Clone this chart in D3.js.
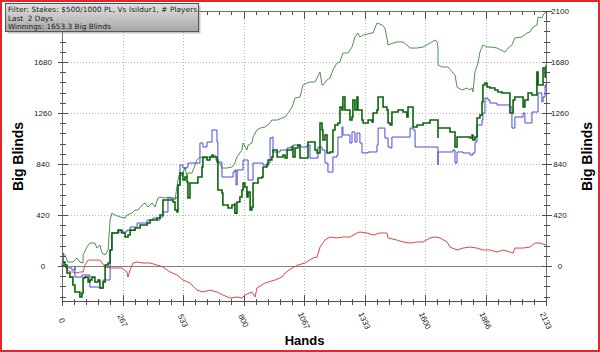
<!DOCTYPE html>
<html>
<head>
<meta charset="utf-8">
<script src="https://cdn.jsdelivr.net/npm/d3@7"></script>
<style>
  html, body { margin: 0; padding: 0; background: #fff; }
  svg { display: block; font-family: "Liberation Sans", Arial, sans-serif; }
</style>
</head>
<body>
<div id="graph"></div>
<script>
// tick labels and info box
const xTickLabels = ["0", "267", "533", "800", "1067", "1333", "1600", "1866", "2133"];
const yTickValues = [0, 420, 840, 1260, 1680, 2100];
const infoLines = [
  "Filter: Stakes: $500/1000 PL, Vs Isildur1, # Players",
  "Last  2 Days",
  "Winnings: 1653.3 Big Blinds"
];
const infoWidths = [189, 45, 103];

// series: [hands, big blinds]
const lightGreen = [[0,0],[4,107],[13,91],[26,33],[48,33],[66,66],[79,33],[93,25],[93,91],[110,156],[123,189],[145,189],[154,148],[167,173],[176,107],[190,91],[203,132],[212,379],[220,436],[234,420],[256,404],[278,395],[286,420],[308,436],[322,461],[335,461],[353,502],[366,519],[379,486],[397,519],[410,486],[423,560],[432,568],[454,560],[476,568],[498,544],[511,708],[520,774],[529,741],[542,815],[551,733],[555,766],[573,766],[595,873],[608,898],[630,889],[652,898],[674,914],[683,848],[696,848],[705,807],[727,807],[749,815],[762,848],[771,898],[793,955],[798,1013],[815,955],[820,996],[837,1013],[842,1062],[859,1120],[873,1136],[895,1145],[917,1178],[925,1202],[948,1202],[970,1219],[983,1227],[996,1260],[1014,1309],[1027,1383],[1049,1392],[1062,1491],[1080,1507],[1093,1515],[1115,1515],[1137,1598],[1146,1491],[1150,1491],[1168,1532],[1181,1548],[1194,1614],[1212,1672],[1225,1680],[1238,1754],[1260,1754],[1278,1803],[1291,1886],[1304,1919],[1313,1886],[1327,1902],[1366,1919],[1371,1919],[1388,2001],[1410,1985],[1423,1960],[1432,1878],[1437,1820],[1459,1836],[1476,1845],[1503,1845],[1520,1820],[1534,1795],[1565,1795],[1591,1803],[1622,1836],[1644,1861],[1653,1845],[1657,1795],[1657,1655],[1675,1639],[1701,1639],[1719,1598],[1732,1573],[1741,1474],[1763,1449],[1785,1466],[1798,1449],[1807,1466],[1811,1433],[1820,1598],[1833,1672],[1842,1762],[1855,1820],[1873,1803],[1895,1803],[1917,1795],[1952,1762],[1966,1795],[1983,1820],[1996,1878],[2027,1886],[2049,1919],[2062,1927],[2076,1968],[2093,1985],[2098,2051],[2115,2043],[2120,2067],[2133,2092]];

const darkGreen = [[0,0],[4,107],[4,33],[13,8],[22,-58],[35,-91],[48,-156],[57,-214],[71,-214],[79,-255],[88,-222],[93,-99],[101,-91],[115,-132],[123,-115],[132,-91],[145,-132],[159,-115],[167,-181],[176,-181],[181,-132],[190,8],[203,25],[212,132],[220,272],[225,272],[247,296],[264,272],[278,239],[291,255],[300,296],[322,313],[344,338],[375,354],[388,379],[419,395],[432,420],[445,544],[463,544],[489,527],[498,461],[507,445],[511,667],[520,766],[533,708],[542,733],[551,692],[555,560],[564,684],[586,684],[599,733],[617,815],[621,898],[639,873],[652,898],[661,914],[665,898],[683,873],[687,815],[687,626],[705,601],[709,502],[732,478],[749,502],[762,519],[762,436],[771,527],[784,568],[793,626],[798,684],[806,651],[815,568],[820,609],[829,461],[837,486],[842,684],[859,684],[864,725],[881,733],[886,815],[903,832],[908,873],[925,898],[930,955],[948,898],[961,898],[974,914],[983,889],[992,955],[1014,980],[1018,898],[1027,972],[1040,996],[1049,889],[1080,889],[1084,1021],[1102,1021],[1115,955],[1124,931],[1137,1178],[1146,1120],[1150,1038],[1159,1079],[1168,931],[1181,939],[1194,1120],[1203,1161],[1216,1178],[1225,1309],[1234,1285],[1238,1392],[1247,1285],[1260,1285],[1269,1202],[1278,1227],[1282,1367],[1291,1285],[1300,1392],[1304,1285],[1322,1202],[1327,1178],[1349,1202],[1366,1186],[1371,1260],[1388,1285],[1393,1392],[1410,1392],[1415,1309],[1432,1285],[1437,1178],[1446,1161],[1454,1268],[1481,1285],[1503,1268],[1520,1227],[1525,1309],[1542,1309],[1547,1145],[1565,1161],[1591,1178],[1622,1202],[1653,1202],[1657,1054],[1657,1136],[1701,1136],[1710,1104],[1732,1104],[1732,980],[1741,1062],[1767,1062],[1798,1054],[1807,1079],[1811,1038],[1820,1062],[1829,1219],[1842,1243],[1851,1351],[1855,1491],[1864,1507],[1873,1474],[1886,1466],[1908,1449],[1921,1433],[1939,1425],[1961,1425],[1974,1351],[1974,1260],[1988,1367],[1996,1392],[2018,1392],[2032,1309],[2040,1367],[2054,1425],[2071,1408],[2093,1598],[2098,1491],[2107,1491],[2120,1631],[2129,1556],[2133,1653]];

const blue = [[0,0],[18,-16],[44,-33],[57,-8],[57,-91],[88,-74],[123,-173],[167,-181],[181,-115],[212,132],[220,272],[242,280],[286,296],[300,321],[331,354],[375,379],[401,395],[419,379],[432,404],[445,445],[467,560],[507,568],[511,667],[520,832],[533,807],[551,815],[555,848],[608,1013],[621,980],[639,1021],[661,1120],[679,1120],[683,1021],[687,856],[705,848],[705,733],[740,733],[754,774],[762,791],[767,667],[772,791],[798,873],[815,873],[820,708],[837,708],[842,848],[873,848],[886,832],[903,848],[917,1054],[925,1062],[930,939],[961,955],[992,972],[1005,980],[1018,996],[1049,980],[1080,996],[1093,889],[1106,889],[1128,980],[1146,955],[1159,848],[1172,774],[1190,774],[1194,898],[1212,914],[1216,1062],[1234,1145],[1238,1079],[1256,1079],[1269,1013],[1278,1104],[1291,1021],[1300,1095],[1313,1013],[1322,931],[1349,939],[1371,939],[1388,996],[1393,1136],[1415,1136],[1423,1054],[1437,980],[1446,972],[1454,1062],[1503,1062],[1534,1062],[1534,1136],[1547,1120],[1556,980],[1591,980],[1653,980],[1657,832],[1657,939],[1697,939],[1723,955],[1732,848],[1741,939],[1767,931],[1798,914],[1811,931],[1820,1021],[1829,1161],[1851,1202],[1855,1260],[1864,1383],[1877,1367],[1886,1342],[1917,1326],[1961,1326],[1974,1309],[1983,1219],[1983,1136],[1996,1227],[2027,1227],[2032,1260],[2040,1178],[2062,1178],[2071,1268],[2093,1268],[2098,1425],[2115,1351],[2120,1392],[2129,1491],[2133,1466]];

const red = [[0,0],[4,8],[26,-33],[35,-49],[48,-49],[66,-58],[79,-49],[93,-49],[101,8],[115,49],[123,49],[167,49],[190,-8],[212,-16],[264,-16],[286,-49],[291,-91],[300,-33],[313,25],[331,33],[357,25],[388,25],[419,8],[445,-8],[476,-49],[507,-74],[533,-115],[564,-140],[595,-198],[621,-214],[652,-198],[683,-214],[710,-239],[740,-264],[771,-255],[793,-264],[806,-239],[837,-214],[851,-255],[859,-181],[895,-140],[939,-115],[970,-91],[983,-58],[1014,-16],[1040,8],[1071,25],[1106,66],[1124,74],[1137,156],[1159,214],[1181,239],[1212,231],[1238,239],[1269,239],[1300,272],[1313,280],[1344,272],[1371,255],[1401,272],[1432,272],[1437,231],[1476,214],[1503,198],[1534,189],[1565,198],[1591,198],[1622,231],[1644,239],[1666,231],[1697,198],[1710,156],[1741,132],[1767,148],[1798,156],[1829,148],[1855,132],[1886,132],[1917,115],[1943,132],[1974,115],[1988,107],[1996,148],[2032,148],[2062,156],[2085,189],[2107,189],[2133,173]];

function graphBuilder(target) {
  const width = 600;
  const height = 352;

  const margin = { top: 11, right: 54, bottom: 51, left: 62 };
  const plotW = width - margin.left - margin.right;
  const plotH = height - margin.top - margin.bottom;

  const maxHands = 2133;

  const x = d3.scaleLinear().domain([0, maxHands]).range([margin.left, margin.left + plotW]);
  const y = d3.scaleLinear().domain([-288, 2100]).range([margin.top + plotH, margin.top]);

  const svg = d3.select(target)
    .append("svg")
    .attr("width", width)
    .attr("height", height);

  svg.append("rect")
    .attr("width", width).attr("height", height)
    .attr("fill", "#fff");

  const xMajor = xTickLabels.map((d, i) => i * maxHands / 8);
  const xMinor = d3.range(0, 41).map((i) => i * maxHands / 40);
  const yMinor = d3.range(-3, 26).map((i) => i * 84);

  // grid
  const grid = svg.append("g").attr("class", "grid")
    .attr("stroke", "#b8b8b8")
    .attr("stroke-dasharray", "1,2");

  grid.selectAll(".gx")
    .data(xMajor.slice(1, -1))
    .enter().append("line")
    .attr("x1", (d) => Math.round(x(d)) + 0.5).attr("x2", (d) => Math.round(x(d)) + 0.5)
    .attr("y1", y.range()[1]).attr("y2", y.range()[0]);

  grid.selectAll(".gy")
    .data(yTickValues.filter((d) => d !== 0 && d !== 2100))
    .enter().append("line")
    .attr("x1", x.range()[0]).attr("x2", x.range()[1])
    .attr("y1", (d) => Math.round(y(d)) + 0.5).attr("y2", (d) => Math.round(y(d)) + 0.5);

  // zero line
  svg.append("line")
    .attr("x1", x.range()[0]).attr("x2", x.range()[1])
    .attr("y1", Math.round(y(0)) + 0.5).attr("y2", Math.round(y(0)) + 0.5)
    .attr("stroke", "#808080")
    .attr("stroke-width", 1);

  // series
  const stepLine = d3.line()
    .x((d) => x(d[0]))
    .y((d) => y(d[1]))
    .curve(d3.curveStepAfter);
  const plainLine = d3.line()
    .x((d) => x(d[0]))
    .y((d) => y(d[1]));

  const series = [
    { data: red, color: "#e34444", w: 1, gen: plainLine },
    { data: lightGreen, color: "#4f914f", w: 1, gen: plainLine },
    { data: blue, color: "#4a4ad8", w: 1, gen: stepLine },
    { data: darkGreen, color: "#0b640b", w: 1.6, gen: stepLine },
  ];

  svg.append("g").attr("class", "series")
    .selectAll("path")
    .data(series)
    .enter().append("path")
    .attr("fill", "none")
    .attr("stroke", (d) => d.color)
    .attr("stroke-width", (d) => d.w)
    .attr("d", (d) => d.gen(d.data));

  // axes frame
  const axis = svg.append("g").attr("class", "axes")
    .attr("stroke", "#707070")
    .attr("shape-rendering", "crispEdges");

  const x0 = Math.round(x.range()[0]) + 0.5;
  const x1 = Math.round(x.range()[1]) + 0.5;
  const yT = Math.round(y.range()[1]) + 0.5;
  const yB = Math.round(y.range()[0]) + 0.5;

  axis.append("line").attr("x1", x0).attr("x2", x0).attr("y1", yT).attr("y2", yB);
  axis.append("line").attr("x1", x1).attr("x2", x1).attr("y1", yT).attr("y2", yB);
  axis.append("line").attr("x1", x0).attr("x2", x1).attr("y1", yT).attr("y2", yT);
  axis.append("line").attr("x1", x0).attr("x2", x1).attr("y1", yB).attr("y2", yB)
    .attr("stroke", "#505050");

  const ticks = svg.append("g").attr("class", "ticks")
    .attr("stroke", "#505050")
    .attr("shape-rendering", "crispEdges");

  // y ticks, left and right
  yMinor.forEach((v) => {
    const major = yTickValues.includes(v);
    const yy = Math.round(y(v)) + 0.5;
    const len = major ? 5 : 3;
    ticks.append("line").attr("x1", x0 - len).attr("x2", x0 + len).attr("y1", yy).attr("y2", yy);
    ticks.append("line").attr("x1", x1 - len).attr("x2", x1 + len).attr("y1", yy).attr("y2", yy);
  });

  // x ticks, bottom and top
  xMinor.forEach((v, i) => {
    const major = i % 5 === 0;
    const xx = Math.round(x(v)) + 0.5;
    ticks.append("line").attr("x1", xx).attr("x2", xx)
      .attr("y1", yB - (major ? 7 : 3)).attr("y2", yB + (major ? 4 : 3));
    ticks.append("line").attr("x1", xx).attr("x2", xx)
      .attr("y1", yT).attr("y2", yT + (major ? 7 : 3));
  });

  // tick labels
  const labels = svg.append("g").attr("class", "labels")
    .attr("font-size", 8)
    .attr("fill", "#222");

  // the left 2100 sits under the info box
  labels.selectAll(".yl")
    .data(yTickValues.filter((d) => d !== 2100))
    .enter().append("text")
    .attr("x", 43)
    .attr("y", (d) => y(d) + 3)
    .attr("text-anchor", "middle")
    .text((d) => d);

  labels.selectAll(".yr")
    .data(yTickValues)
    .enter().append("text")
    .attr("x", 560)
    .attr("y", (d) => y(d) + 3)
    .attr("text-anchor", "middle")
    .text((d) => d);

  labels.selectAll(".xl")
    .data(xMajor)
    .enter().append("text")
    .attr("transform", (d) => `translate(${x(d)},${yB + 19}) rotate(65)`)
    .attr("text-anchor", "middle")
    .attr("dy", "0.35em")
    .text((d, i) => xTickLabels[i]);

  // axis titles
  svg.append("text")
    .attr("transform", `translate(23,${(yT + yB) / 2}) rotate(-90)`)
    .attr("text-anchor", "middle")
    .attr("font-size", 14).attr("font-weight", "bold")
    .text("Big Blinds");

  svg.append("text")
    .attr("transform", `translate(592,${(yT + yB) / 2}) rotate(-90)`)
    .attr("text-anchor", "middle")
    .attr("font-size", 14).attr("font-weight", "bold")
    .text("Big Blinds");

  svg.append("text")
    .attr("x", (x0 + x1) / 2)
    .attr("y", 345)
    .attr("text-anchor", "middle")
    .attr("font-size", 13).attr("font-weight", "bold")
    .text("Hands");

  // info box
  const defs = svg.append("defs");
  const grad = defs.append("linearGradient")
    .attr("id", "boxGrad").attr("x1", 0).attr("y1", 0).attr("x2", 0).attr("y2", 1);
  grad.append("stop").attr("offset", "0%").attr("stop-color", "#e2e2e2");
  grad.append("stop").attr("offset", "100%").attr("stop-color", "#a6a6a6");

  svg.append("rect")
    .attr("x", 7.5).attr("y", 5.5).attr("width", 193).attr("height", 28)
    .attr("fill", "#8a8a8a").attr("opacity", 0.5);
  svg.append("rect")
    .attr("x", 5.5).attr("y", 3.5).attr("width", 193).attr("height", 28)
    .attr("fill", "url(#boxGrad)")
    .attr("stroke", "#555");

  svg.append("g")
    .attr("font-family", "'DejaVu Sans', Verdana, sans-serif")
    .attr("font-size", 7.3)
    .attr("fill", "#1a1a1a")
    .selectAll("text")
    .data(infoLines)
    .enter().append("text")
    .attr("x", 8)
    .attr("y", (d, i) => 12 + i * 8.6)
    .attr("textLength", (d, i) => infoWidths[i])
    .attr("lengthAdjust", "spacing")
    .attr("xml:space", "preserve")
    .text((d) => d);

  // red outer border
  svg.append("rect")
    .attr("x", 1).attr("y", 1).attr("width", width - 2).attr("height", height - 2)
    .attr("fill", "none")
    .attr("stroke", "#e4262b")
    .attr("stroke-width", 2);
}

graphBuilder("#graph");
</script>
</body>
</html>
